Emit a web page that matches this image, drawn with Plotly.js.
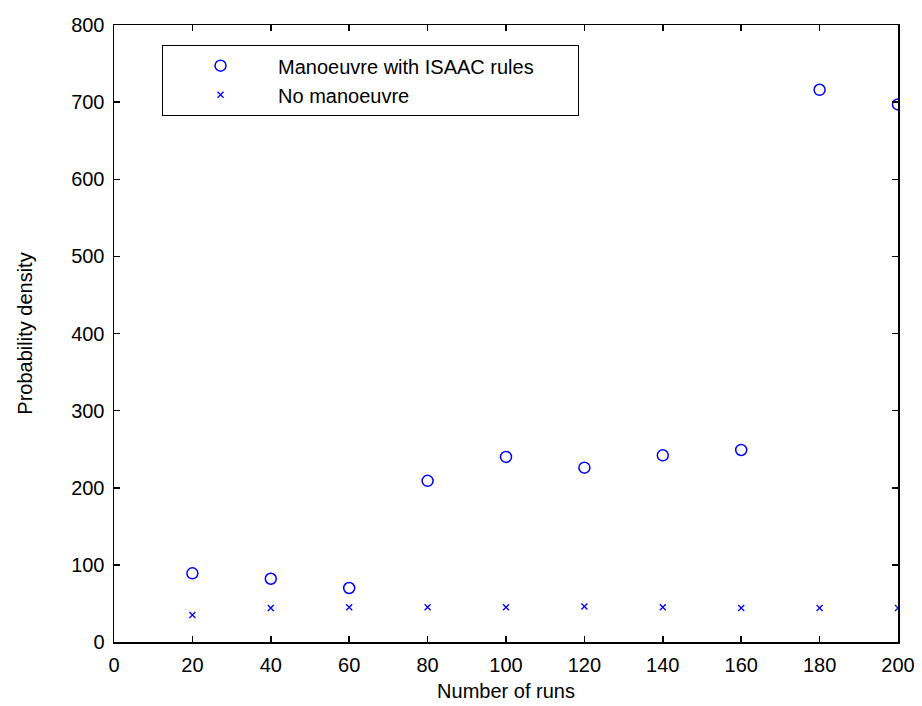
<!DOCTYPE html>
<html>
<head>
<meta charset="utf-8">
<script src="https://cdn.plot.ly/plotly-3.0.1.min.js"></script>
<style>html,body{margin:0;padding:0;background:#fff;}#chart{width:922px;height:706px;}</style>
</head>
<body>
<div id="chart"></div>
<script>
const runs = [20, 40, 60, 80, 100, 120, 140, 160, 180, 200];
const withManoeuvre = [89, 82, 70, 209, 240, 226, 242, 249, 716, 697];
const noManoeuvre = [35, 44, 45, 45, 45, 46, 45, 44, 44, 44];
const seriesNames = ['Manoeuvre with ISAAC rules', 'No manoeuvre'];
const xTicks = [0, 20, 40, 60, 80, 100, 120, 140, 160, 180, 200];
const yTicks = [0, 100, 200, 300, 400, 500, 600, 700, 800];

const font = {family: 'Liberation Sans, Arial, sans-serif', size: 20, color: '#000'};
const pad = '\u00a0'.repeat(7);

const traces = [
  {x: runs, y: withManoeuvre, name: seriesNames[0] + pad, type: 'scatter', mode: 'markers',
   marker: {symbol: 'circle-open', size: 11, color: '#0000ff', line: {width: 1.5, color: '#0000ff'}}},
  {x: runs, y: noManoeuvre, name: seriesNames[1], type: 'scatter', mode: 'markers',
   marker: {symbol: 'x-thin-open', size: 6, color: '#0000ff', line: {width: 1.3, color: '#0000ff'}}}
];

const axisCommon = {
  showline: true, linecolor: '#000', linewidth: 1.5, mirror: 'ticks',
  ticks: 'inside', ticklen: 6, tickcolor: '#000', tickwidth: 1.5,
  showgrid: false, zeroline: false, tickfont: font
};

const layout = {
  width: 922, height: 706,
  margin: {l: 114, r: 24, t: 25, b: 64},
  paper_bgcolor: '#fff', plot_bgcolor: '#fff',
  font: font,
  xaxis: Object.assign({}, axisCommon, {range: [0, 200], tickvals: xTicks, ticklabelstandoff: 4,
    title: {text: 'Number of runs', font: font, standoff: 9}}),
  yaxis: Object.assign({}, axisCommon, {range: [0, 800], tickvals: yTicks, ticklabelstandoff: 4,
    title: {text: 'Probability density', font: font, standoff: 33}}),
  showlegend: true,
  legend: {x: 0.061, y: 0.9676, xanchor: 'left', yanchor: 'top',
    bgcolor: '#fff', bordercolor: '#000', borderwidth: 1.2,
    font: font, itemwidth: 105, tracegroupgap: 0}
};

Plotly.newPlot('chart', traces, layout, {staticPlot: true, displayModeBar: false});
</script>
</body>
</html>
